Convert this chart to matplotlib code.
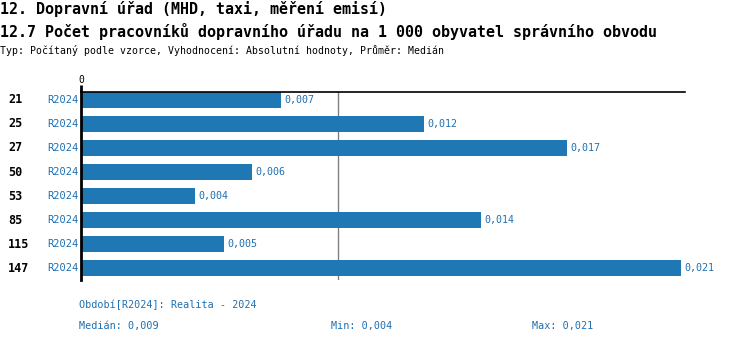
import matplotlib.pyplot as plt
import matplotlib.transforms as mtransforms

# Data
districts = ["21", "25", "27", "50", "53", "85", "115", "147"]
period = "R2024"
values = [0.007, 0.012, 0.017, 0.006, 0.004, 0.014, 0.005, 0.021]
median_value = 0.009
min_value = 0.004
max_value = 0.021

title_1 = "12. Dopravní úřad (MHD, taxi, měření emisí)"
title_2 = "12.7 Počet pracovníků dopravního úřadu na 1 000 obyvatel správního obvodu"
subtitle = "Typ: Počítaný podle vzorce, Vyhodnocení: Absolutní hodnoty, Průměr: Medián"
legend_period = "Období[R2024]: Realita - 2024"

BLUE = "#1f77b4"
TXT_BLUE = "#1f6fb0"
MONO = "DejaVu Sans Mono"

def fmt(v):
    return f"{v:.3f}".replace(".", ",")

W, H = 750, 344
fig = plt.figure(figsize=(W / 100, H / 100), dpi=100)

# axes in pixel geometry: x 81..685, y 92..280
ax = fig.add_axes([81 / W, 1 - 280 / H, (685 - 81) / W, (280 - 92) / H])
ypos = list(range(len(districts)))
ax.barh(ypos, values, height=0.63, color=BLUE, zorder=2)
ax.axvline(median_value, color="#808080", lw=1, zorder=1)
ax.set_xlim(0, max_value * 604 / 600)
ax.set_ylim(len(districts) - 0.5, -1 / 3)

for s in ["right", "bottom"]:
    ax.spines[s].set_visible(False)
ax.spines["top"].set_linewidth(1.2)
ax.spines["left"].set_linewidth(2)
ax.xaxis.tick_top()
ax.set_xticks([0])
ax.set_xticklabels(["0"], fontfamily=MONO, fontsize=7)
ax.tick_params(axis="x", length=5, width=2, pad=0)
ax.set_yticks([])

for y, v in zip(ypos, values):
    ax.text(v + 0.00012, y, fmt(v), va="center", ha="left", color=TXT_BLUE,
            fontfamily=MONO, fontsize=7.2)

trans = mtransforms.blended_transform_factory(fig.transFigure, ax.transData)
for y, d in zip(ypos, districts):
    ax.text(8 / W, y, d, transform=trans, va="center", ha="left",
            fontfamily=MONO, fontsize=8.5, fontweight="bold", color="black")
    ax.text(79 / W, y, period, transform=trans, va="center", ha="right",
            fontfamily=MONO, fontsize=7.5, color=TXT_BLUE)

# headings
fig.text(0, 1 - 9 / H, title_1, fontfamily=MONO, fontsize=10.8, fontweight="bold", va="center")
fig.text(0, 1 - 31 / H, title_2, fontfamily=MONO, fontsize=10.8, fontweight="bold", va="center")
fig.text(0, 1 - 50 / H, subtitle, fontfamily=MONO, fontsize=7.1, va="center")

# footer
fig.text(79 / W, 1 - 305 / H, legend_period, fontfamily=MONO, fontsize=7.3, color=TXT_BLUE, va="center")
fig.text(79 / W, 1 - 326 / H, "Medián: " + fmt(median_value), fontfamily=MONO, fontsize=7.3, color=TXT_BLUE, va="center")
fig.text(331 / W, 1 - 326 / H, "Min: " + fmt(min_value), fontfamily=MONO, fontsize=7.3, color=TXT_BLUE, va="center")
fig.text(532 / W, 1 - 326 / H, "Max: " + fmt(max_value), fontfamily=MONO, fontsize=7.3, color=TXT_BLUE, va="center")

fig.savefig("out.png", dpi=100)
